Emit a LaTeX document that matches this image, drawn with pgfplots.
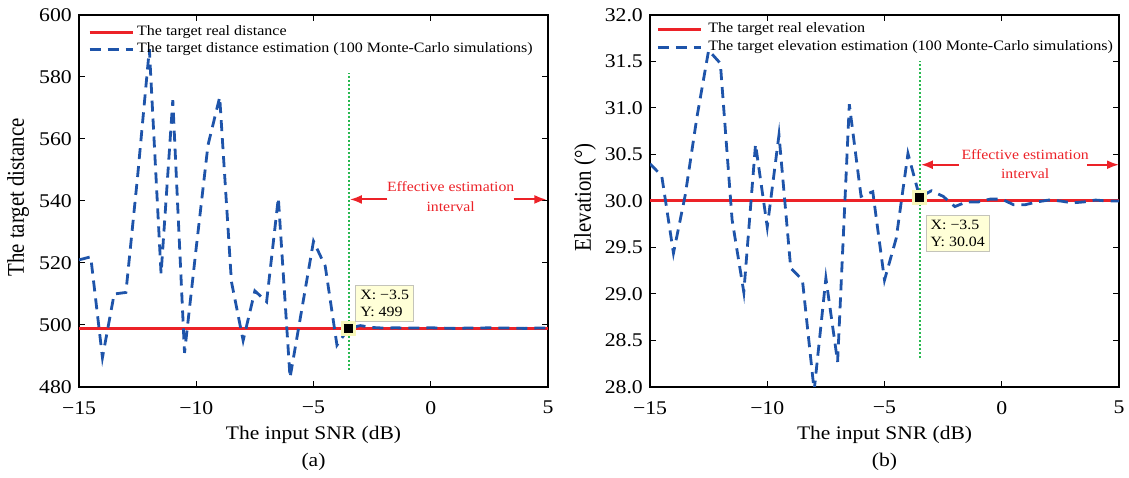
\documentclass[border=0pt]{standalone}
\usepackage{fontspec}
\setmainfont{Liberation Serif}[FakeStretch=1.12]
\newfontfamily\labfont{Liberation Serif}[FakeStretch=0.87]
\usepackage{pgfplots}
\pgfplotsset{compat=1.18}
\usetikzlibrary{arrows.meta}

\definecolor{realred}{RGB}{236,34,40}
\definecolor{estblue}{RGB}{30,84,170}
\definecolor{guidegreen}{RGB}{40,185,80}
\definecolor{tipfill}{RGB}{255,255,215}
\definecolor{tiphalo}{RGB}{248,248,185}
\definecolor{tipedge}{RGB}{196,196,186}

% distance estimates versus input SNR
\pgfplotstableread{
snr  dist
-15  521
-14.5 522
-14  489.5
-13.5 510
-13  510.5
-12.5 548
-12  589
-11.5 516.5
-11  572.5
-10.5 491
-10  525
-9.5 558
-9   573.5
-8.5 514
-8   495
-7.5 511
-7   507.5
-6.5 541
-6   483
-5.5 505
-5   527
-4.5 519
-4   493.5
-3.5 499
-3   499.8
-2.5 499.2
-2   499
-1.5 499.1
-1   499
-0.5 499
0    499.1
0.5  499
1    498.9
1.5  499
2    499
2.5  499.1
3    499
3.5  499
4    498.9
4.5  499
5    499
}\disttable

% elevation estimates versus input SNR
\pgfplotstableread{
snr  elev
-15  30.40
-14.5 30.27
-14  29.44
-13.5 30.06
-13  30.90
-12.5 31.62
-12  31.48
-11.5 29.80
-11  29.02
-10.5 30.61
-10  29.72
-9.5 30.71
-9   29.28
-8.5 29.15
-8   27.96
-7.5 29.17
-7   28.27
-6.5 31.04
-6   30.05
-5.5 30.10
-5   29.15
-4.5 29.60
-4   30.51
-3.5 30.04
-3   30.11
-2.5 30.05
-2   29.94
-1.5 29.99
-1   29.99
-0.5 30.02
0    30.02
0.5  29.96
1    29.96
1.5  29.99
2    30.01
2.5  30.00
3    29.98
3.5  29.99
4    30.01
4.5  30.00
5    30.00
}\elevtable

\tikzset{spanarrow/.style={realred, line width=2pt, -{Latex[length=12pt,width=9pt]}}}

\pgfplotsset{
  snrax/.style={
    scale only axis, width=469pt, height=372pt,
    anchor=south west,
    xmin=-15, xmax=5,
    xtick={-15,-10,-5,0,5},
    xticklabels={−15,−10,−5,0,5},
    tick align=inside,
    major tick length=6pt,
    axis line style={line width=1.1pt},
    every tick/.style={black, line width=1pt},
    tick label style={font=\fontsize{19.4}{22}\selectfont},
    xticklabel style={anchor=north, inner sep=0pt, yshift=-14pt},
    yticklabel style={anchor=east, inner sep=0pt, xshift=-7pt},
    xlabel={The input SNR (dB)},
    xlabel style={at={(axis description cs:0.5,-0.129)}, anchor=center,
      font=\fontsize{19.2}{22}\selectfont},
    clip mode=individual,
    legend cell align=left,
    legend image code/.code={\draw[##1] (0pt,0pt) -- (43pt,0pt);},
  },
  tipmark/.style={only marks, mark=square*, forget plot},
}

\begin{document}
\begin{tikzpicture}
\path (0pt,0pt) rectangle (1129pt,478pt);

% (a) target distance
\begin{axis}[snrax, at={(79pt,91pt)},
    ymin=480, ymax=600,
    ytick={480,500,520,540,560,580,600},
    yticklabels={480,500,520,540,560,580,600},
    ylabel={The target distance},
    ylabel style={at={(axis description cs:-0.130,0.51)}, anchor=center,
      font=\labfont\fontsize{24}{26}\selectfont},
    legend style={at={(rel axis cs:0.019,0.9745)}, anchor=north west,
      draw=none, fill=none, inner sep=0pt, row sep=1.2pt, column sep=2pt,
      font=\fontsize{14.3}{16}\selectfont,
      nodes={inner sep=1pt, text height=10pt, text depth=3.5pt}},
  ]
  \addplot[realred, line width=3pt] coordinates {(-15,499) (5,499)};
  \addlegendentry{The target real distance}
  \addplot[estblue, line width=2.8pt, dash pattern=on 11pt off 7pt]
    table[x=snr, y=dist] {\disttable};
  \addlegendentry{The target distance estimation (100 Monte-Carlo simulations)}
  \addplot[guidegreen, line width=1.8pt, dash pattern=on 1.8pt off 2.2pt, forget plot]
    coordinates {(-3.5,485.5) (-3.5,581.2)};
  \addplot[tipmark, color=tiphalo, mark size=7pt] coordinates {(-3.5,499)};
  \addplot[tipmark, color=black, mark size=4pt] coordinates {(-3.5,499)};
  \draw[spanarrow] (axis cs:-1.85,540.5) -- (axis cs:-3.45,540.5);
  \draw[spanarrow] (axis cs:3.53,540.5) -- (axis cs:4.93,540.5);
  \node[text=realred, align=center, font=\fontsize{14.1}{20}\selectfont]
    at (axis cs:0.85,541.4) {Effective estimation\\interval};
  \node[draw=tipedge, fill=tipfill, line width=0.7pt, anchor=south west,
    align=left, inner xsep=4.6pt, inner ysep=5.2pt,
    font=\fontsize{14.2}{16.5}\selectfont, xshift=6.7pt, yshift=6.3pt]
    at (axis cs:-3.5,499) {X: −3.5\\Y: 499};
  \node[font=\fontsize{19.3}{22}\selectfont] at (axis description cs:0.5,-0.2003) {(a)};
\end{axis}

% (b) elevation
\begin{axis}[snrax, at={(650pt,91pt)},
    ymin=28, ymax=32,
    ytick={28,28.5,29,29.5,30,30.5,31,31.5,32},
    yticklabels={28.0,28.5,29.0,29.5,30.0,30.5,31.0,31.5,32.0},
    ylabel={Elevation (°)},
    ylabel style={at={(axis description cs:-0.1386,0.51)}, anchor=center,
      font=\labfont\fontsize{24}{26}\selectfont},
    legend style={at={(rel axis cs:0.013,0.983)}, anchor=north west,
      draw=none, fill=none, inner sep=0pt, row sep=2.8pt, column sep=5pt,
      font=\fontsize{14.4}{16}\selectfont,
      nodes={inner sep=1pt, text height=10pt, text depth=3.5pt}},
  ]
  \addplot[realred, line width=3pt] coordinates {(-15,30) (5,30)};
  \addlegendentry{The target real elevation}
  \addplot[estblue, line width=2.8pt, dash pattern=on 11pt off 7pt]
    table[x=snr, y=elev] {\elevtable};
  \addlegendentry{The target elevation estimation (100 Monte-Carlo simulations)}
  \addplot[guidegreen, line width=1.8pt, dash pattern=on 1.8pt off 2.2pt, forget plot]
    coordinates {(-3.5,28.31) (-3.5,31.50)};
  \addplot[tipmark, color=tiphalo, mark size=7pt] coordinates {(-3.5,30.04)};
  \addplot[tipmark, color=black, mark size=4pt] coordinates {(-3.5,30.04)};
  \draw[spanarrow] (axis cs:-1.83,30.39) -- (axis cs:-3.45,30.39);
  \draw[spanarrow] (axis cs:3.63,30.39) -- (axis cs:5.0,30.39);
  \node[text=realred, align=center, font=\fontsize{14.1}{18.3}\selectfont]
    at (axis cs:1.0,30.398) {Effective estimation\\interval};
  \node[draw=tipedge, fill=tipfill, line width=0.7pt, anchor=north west,
    align=left, inner xsep=4.6pt, inner ysep=5.2pt,
    font=\fontsize{14.2}{16.5}\selectfont, xshift=6pt, yshift=-17.7pt]
    at (axis cs:-3.5,30.04) {X: −3.5\\Y: 30.04};
  \node[font=\fontsize{19.3}{22}\selectfont] at (axis description cs:0.5,-0.2003) {(b)};
\end{axis}
\end{tikzpicture}
\end{document}
